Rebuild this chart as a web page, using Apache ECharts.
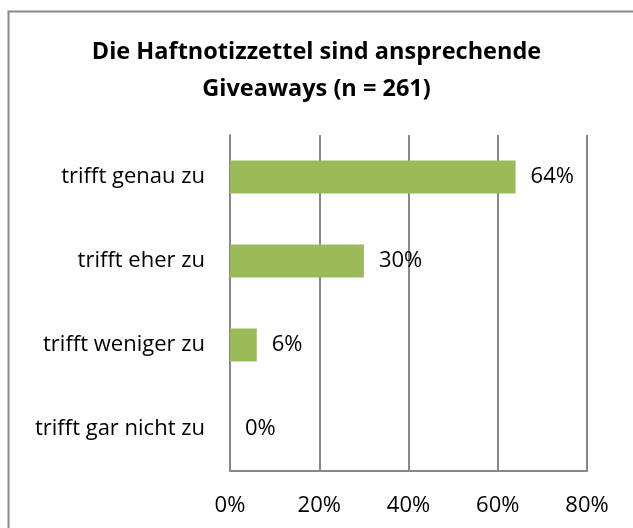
<!DOCTYPE html>
<html>
<head>
<meta charset="utf-8">
<script src="https://cdn.jsdelivr.net/npm/echarts@6/dist/echarts.min.js"></script>
<style>html,body{margin:0;padding:0;background:#fff;}#c{width:633px;height:528px;}</style>
</head>
<body>
<div id="c"></div>
<script>
var categories = ['trifft genau zu', 'trifft eher zu', 'trifft weniger zu', 'trifft gar nicht zu'];
var values = [64, 30, 6, 0];
var xTicks = { min: 0, max: 80, interval: 20 };
var titleText = 'Die Haftnotizzettel sind ansprechende\nGiveaways (n = 261)';

var FONT = 'Open Sans';
var chart = echarts.init(document.getElementById('c'), null, { renderer: 'canvas' });
chart.setOption({
  animation: false,
  backgroundColor: '#fff',
  textStyle: { fontFamily: FONT },
  title: {
    text: titleText,
    left: 'center',
    top: 29,
    textStyle: { fontFamily: FONT, fontSize: 23.5, fontWeight: 'bold', color: '#000', lineHeight: 37 }
  },
  graphic: [{
    type: 'rect', left: 6, top: 9, silent: true,
    shape: { x: 0, y: 0, width: 700, height: 600 },
    style: { fill: 'none', stroke: '#888', lineWidth: 2 }
  }],
  grid: { left: 230, right: 46, top: 135, bottom: 57, containLabel: false },
  xAxis: {
    type: 'value', min: xTicks.min, max: xTicks.max, interval: xTicks.interval,
    axisLine: { show: true, lineStyle: { color: '#888', width: 2 } },
    axisTick: { show: false },
    splitLine: { show: true, lineStyle: { color: '#888', width: 2 } },
    axisLabel: { formatter: '{value}%', fontSize: 22, color: '#000', margin: 24, fontFamily: FONT }
  },
  yAxis: {
    type: 'category', data: categories, inverse: true,
    axisLine: { show: true, lineStyle: { color: '#888', width: 2 } },
    axisTick: { show: false },
    axisLabel: { fontSize: 22, color: '#000', margin: 25, fontFamily: FONT }
  },
  series: [{
    type: 'bar', data: values, barWidth: 33,
    itemStyle: { color: '#9BBB59' },
    label: { show: true, position: 'right', distance: 15, formatter: '{c}%', fontSize: 22, color: '#000', fontFamily: FONT }
  }]
});
</script>
</body>
</html>
